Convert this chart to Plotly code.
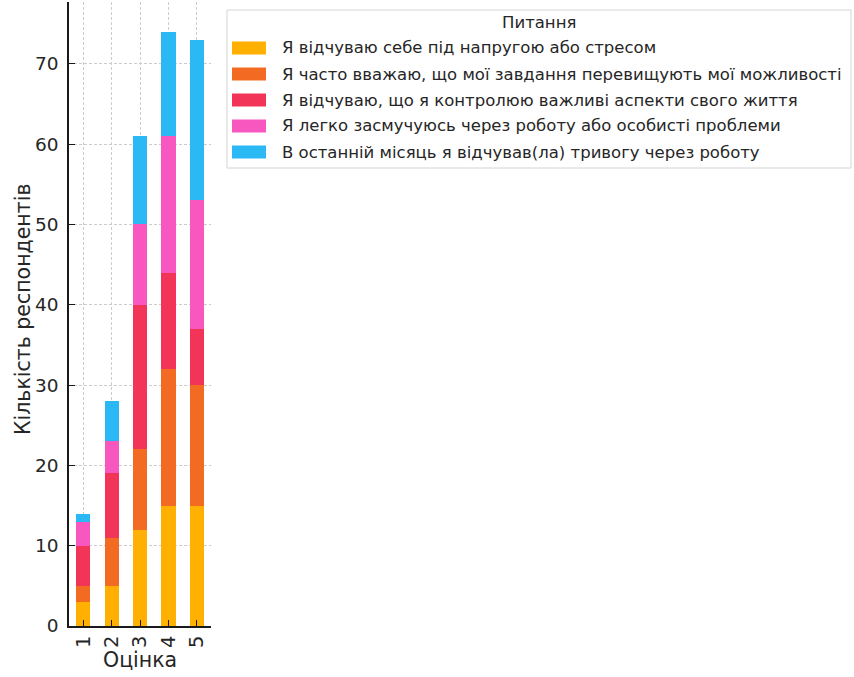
import plotly.graph_objects as go

# Survey answers: stacked counts per rating
ratings = ["1", "2", "3", "4", "5"]
questions = [
    "Я відчуваю себе під напругою або стресом",
    "Я часто вважаю, що мої завдання перевищують мої можливості",
    "Я відчуваю, що я контролюю важливі аспекти свого життя",
    "Я легко засмучуюсь через роботу або особисті проблеми",
    "В останній місяць я відчував(ла) тривогу через роботу",
]
stress = [3, 5, 12, 15, 15]
overload = [2, 6, 10, 17, 15]
control = [5, 8, 18, 12, 7]
upset = [3, 4, 10, 17, 16]
anxiety = [1, 5, 11, 13, 20]
series = [stress, overload, control, upset, anxiety]
colors = ["#FFB000", "#F36A23", "#F13458", "#F757BF", "#2BB9F6"]

W, H = 854, 677
L, R, T, B = 69, 211, 2, 626  # plot area in pixels


def px(x):
    return (x - L) / (R - L)


def py(y):
    return (B - y) / (B - T)


fig = go.Figure()
for name, vals, col in zip(questions, series, colors):
    fig.add_trace(go.Bar(x=ratings, y=vals, name=name, marker_color=col,
                         marker_line_width=0, width=0.5, showlegend=False))

totals = [sum(v) for v in zip(*series)]
ymax = max(totals) * 1.05

font = "DejaVu Sans"
ink = "#262626"
axis_common = dict(
    showline=True, linecolor="#1a1a1a",
    linewidth=1.5, ticks="inside", ticklen=6, tickwidth=1.2, tickcolor="#1a1a1a",
    showgrid=True, gridcolor="#cccccc", griddash="3px,2px", gridwidth=1,
)
fig.update_layout(
    barmode="stack",
    width=W, height=H,
    margin=dict(l=L, r=W - R, t=T, b=H - B),
    plot_bgcolor="white", paper_bgcolor="white",
    font=dict(family=font, color=ink),
    xaxis=dict(type="category", range=[-0.5, 4.5], tickangle=-90,
               tickfont=dict(size=19.5, color=ink),
               ticklabelstandoff=0, **axis_common),
    yaxis=dict(range=[0, ymax], dtick=10, zeroline=False,
               tickfont=dict(size=18.5, color=ink),
               ticklabelstandoff=5, **axis_common),
)

# axis titles
fig.add_annotation(text="Оцінка", xref="paper", yref="paper",
                   x=px(140), y=py(660), xanchor="center", yanchor="middle",
                   showarrow=False, font=dict(size=20.5, family=font, color=ink))
fig.add_annotation(text="Кількість респондентів", xref="paper", yref="paper",
                   x=px(23), y=py(310), xanchor="center", yanchor="middle",
                   textangle=-90, showarrow=False,
                   font=dict(size=20.5, family=font, color=ink))

# legend box
fig.add_shape(type="rect", xref="paper", yref="paper",
              x0=px(227), x1=px(851), y0=py(168), y1=py(10),
              line=dict(color="#d4d4d4", width=1), fillcolor="white", layer="above")
fig.add_annotation(text="Питання", xref="paper", yref="paper",
                   x=px(539), y=py(22), xanchor="center", yanchor="middle",
                   showarrow=False, font=dict(size=16.5, family=font, color=ink))
for i, (name, col) in enumerate(zip(questions, colors)):
    yc = 48 + 26 * i
    fig.add_shape(type="rect", xref="paper", yref="paper",
                  x0=px(232), x1=px(266), y0=py(yc + 6.5), y1=py(yc - 6.5),
                  line=dict(width=0), fillcolor=col, layer="above")
    fig.add_annotation(text=name, xref="paper", yref="paper",
                       x=px(280), y=py(yc), xanchor="left", yanchor="middle",
                       showarrow=False,
                       font=dict(size=16.5, family=font, color=ink))

fig.write_html("out.html")
